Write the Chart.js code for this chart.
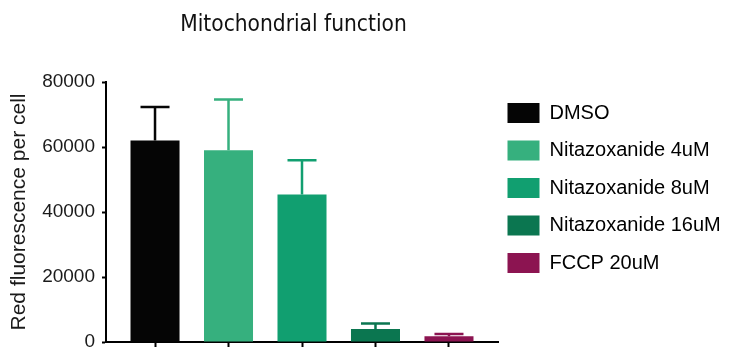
<!DOCTYPE html>
<html>
<head>
<meta charset="utf-8">
<script src="https://cdn.jsdelivr.net/npm/chart.js@4"></script>
<style>
  html, body { margin: 0; padding: 0; background: #fff; }
  #wrap { width: 736px; height: 347px; }
</style>
</head>
<body>
<div id="wrap"><canvas id="chart" width="736" height="347"></canvas></div>
<script>
// Treatment groups, mean red fluorescence per cell and the SEM above each mean
const categories = ['DMSO', 'Nitazoxanide 4uM', 'Nitazoxanide 8uM', 'Nitazoxanide 16uM', 'FCCP 20uM'];
const means = [62000, 59000, 45400, 4000, 1800];
const errors = [10300, 15600, 10500, 1700, 700];
const yTicks = [0, 20000, 40000, 60000, 80000];
const colors = ['#050505', '#36b07e', '#119f70', '#0b7650', '#8c1451'];

const sansFont = "'Liberation Sans', Arial, sans-serif";

// One-sided (upward) error bars with a cap, drawn in each bar's colour
const errorBars = {
  id: 'errorBars',
  afterDatasetsDraw(chart) {
    const ctx = chart.ctx;
    const y = chart.scales.y;
    const meta = chart.getDatasetMeta(0);
    ctx.save();
    ctx.lineWidth = 2.5;
    meta.data.forEach((bar, i) => {
      const top = y.getPixelForValue(means[i] + errors[i]);
      const base = y.getPixelForValue(means[i]);
      ctx.strokeStyle = colors[i];
      ctx.beginPath();
      ctx.moveTo(bar.x, base);
      ctx.lineTo(bar.x, top);
      ctx.moveTo(bar.x - 14.5, top);
      ctx.lineTo(bar.x + 14.5, top);
      ctx.stroke();
    });
    ctx.restore();
  }
};

// Place the legend column to the right of the plot and nudge the title
const boxPlacement = {
  id: 'boxPlacement',
  afterLayout(chart) {
    const lg = chart.legend;
    const left = 490;
    const top = 85.5;
    lg.left = left;
    lg.right = left + lg.width;
    lg.top = top;
    lg.bottom = top + 260;
    const tb = chart.titleBlock;
    tb.left -= 8.5;
    tb.right -= 8.5;
  }
};

new Chart(document.getElementById('chart'), {
  type: 'bar',
  data: {
    datasets: [{
      data: means.map((v, i) => ({ x: i, y: v })),
      backgroundColor: colors,
      borderWidth: 0,
      categoryPercentage: 0.667,
      barPercentage: 1
    }]
  },
  options: {
    responsive: false,
    animation: false,
    devicePixelRatio: 1,
    layout: { padding: { left: 0, right: 0, top: 0, bottom: 0 } },
    scales: {
      x: {
        type: 'linear',
        offset: false,
        min: -0.667,
        max: 4.667,
        afterBuildTicks(scale) { scale.ticks = categories.map((_, i) => ({ value: i })); },
        afterFit(scale) {
          scale.height = 5;
          scale.paddingLeft = 0; scale.paddingRight = 0;
        },
        ticks: { display: false },
        grid: { offset: false, drawOnChartArea: false, drawTicks: true, tickLength: 8, tickWidth: 2, color: '#000' },
        border: { display: true, width: 2, color: '#000' }
      },
      y: {
        min: 0,
        max: 80000,
        afterBuildTicks(scale) { scale.ticks = yTicks.map(v => ({ value: v })); },
        afterFit(scale) {
          scale.width = 106;
          scale.paddingTop = 0; scale.paddingBottom = 0;
        },
        ticks: {
          font: { family: sansFont, size: 19 },
          color: '#1a1a1a',
          padding: 7,
          callback: v => String(v)
        },
        grid: { drawOnChartArea: false, drawTicks: true, tickLength: 4, tickWidth: 2, color: '#000' },
        border: { display: true, width: 2, color: '#000' },
        title: {
          display: true,
          text: 'Red fluorescence per cell',
          font: { family: sansFont, size: 21 },
          color: '#1a1a1a',
          padding: { top: 7, bottom: 0 }
        }
      }
    },
    plugins: {
      title: {
        display: true,
        text: 'Mitochondrial function',
        fullSize: false,
        font: { family: "'DejaVu Sans Condensed', 'DejaVu Sans', sans-serif", size: 22.5, weight: 'normal' },
        color: '#111',
        padding: { top: 12, bottom: 43 }
      },
      legend: {
        display: true,
        position: 'right',
        align: 'start',
        maxWidth: 238,
        labels: {
          boxWidth: 32,
          boxHeight: 20,
          padding: 17.5,
          font: { family: sansFont, size: 20 },
          color: '#111',
          generateLabels() {
            return categories.map((c, i) => ({
              text: c,
              fillStyle: colors[i],
              strokeStyle: colors[i],
              lineWidth: 0,
              hidden: false,
              index: i
            }));
          }
        }
      },
      tooltip: { enabled: false }
    }
  },
  plugins: [errorBars, boxPlacement]
});
</script>
</body>
</html>
